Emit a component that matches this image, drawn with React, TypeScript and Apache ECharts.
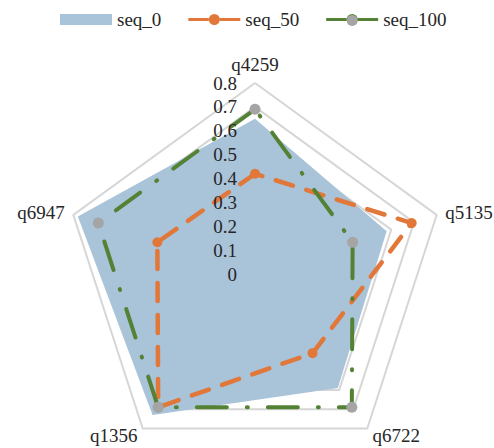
import React, { useEffect, useRef } from "react";
import * as echarts from "echarts";

// Spokes, clockwise from the top
const questions = ["q4259", "q5135", "q6722", "q1356", "q6947"];
const seq0 = [0.65, 0.58, 0.59, 0.73, 0.78];
const seq50 = [0.42, 0.69, 0.41, 0.69, 0.43];
const seq100 = [0.69, 0.43, 0.69, 0.69, 0.69];
const seriesNames = ["seq_0", "seq_50", "seq_100"];
const axisMax = 0.8;
const axisSplits = 8;

const FONT = '"Times New Roman", "Liberation Serif", "DejaVu Serif", serif';
const FONT_SIZE = 19;
const BLUE = "#a9c3d9";
const ORANGE = "#e2773a";
const GREEN = "#548235";
const GRAY = "#a5a5a5";

const CENTER: [number, number] = [255, 274];
const RADIUS = 191;

const LEGEND_LEFT = 60;
const LEGEND_TOP = 10;
const ICON_W = 52;
const ICON_H = 11;
const ICON_TEXT_GAP = 5;
const ITEM_GAP = 27;

// ECharts lays radar spokes out counter-clockwise, so feed them reversed after the first
const order = [0, 4, 3, 2, 1];
const pick = (arr: any[]) => order.map((i) => arr[i]);

const lineWithDot =
  "path://M0,4h20.5v3H0z M31.5,4H52v3H31.5z M20.5,5.5a5.5,5.5 0 1,1 11,0a5.5,5.5 0 1,1 -11,0z";

function textWidth(text: string): number {
  const ctx = document.createElement("canvas").getContext("2d");
  if (!ctx) return text.length * FONT_SIZE * 0.45;
  ctx.font = `${FONT_SIZE}px ${FONT}`;
  return ctx.measureText(text).width;
}

export default function App() {
  const ref = useRef<HTMLDivElement>(null);

  useEffect(() => {
    if (!ref.current) return;
    const chart = echarts.init(ref.current, null, { renderer: "svg" });

    const indicators = pick(questions).map((q) => ({ name: q, min: 0, max: axisMax }));
    const labelIndicators = indicators.map((ind, i) =>
      i === 0 ? { ...ind, axisLabel: { show: true } } : { ...ind }
    );

    // centre of the seq_100 legend icon, where its grey marker sits
    const thirdIconX =
      LEGEND_LEFT +
      (ICON_W + ICON_TEXT_GAP + textWidth(seriesNames[0]) + ITEM_GAP) +
      (ICON_W + ICON_TEXT_GAP + textWidth(seriesNames[1]) + ITEM_GAP) +
      ICON_W / 2;

    chart.setOption({
      animation: false,
      backgroundColor: "#ffffff",
      textStyle: { fontFamily: FONT },
      legend: {
        left: LEGEND_LEFT,
        top: LEGEND_TOP,
        padding: 0,
        itemWidth: ICON_W,
        itemHeight: ICON_H,
        itemGap: ITEM_GAP,
        textStyle: { fontFamily: FONT, fontSize: FONT_SIZE, color: "#262626" },
        data: [
          { name: seriesNames[0], icon: "rect", itemStyle: { color: BLUE } },
          { name: seriesNames[1], icon: lineWithDot, itemStyle: { color: ORANGE } },
          { name: seriesNames[2], icon: lineWithDot, itemStyle: { color: GREEN } },
        ],
      },
      radar: [
        {
          center: CENTER,
          radius: RADIUS,
          startAngle: 90,
          splitNumber: axisSplits,
          shape: "polygon",
          indicator: indicators,
          axisName: { fontFamily: FONT, fontSize: FONT_SIZE, color: "#262626" },
          nameGap: 9,
          axisLine: { show: false },
          splitLine: { lineStyle: { color: "#d6d6d6", width: 2 } },
          splitArea: { show: false },
          axisLabel: { show: false },
        },
        {
          center: CENTER,
          radius: RADIUS,
          startAngle: 90,
          splitNumber: axisSplits,
          shape: "polygon",
          z: 10,
          indicator: labelIndicators,
          axisName: { show: false },
          axisLine: { show: false },
          axisTick: { show: false },
          splitLine: { show: false },
          splitArea: { show: false },
          axisLabel: {
            show: false,
            fontFamily: FONT,
            fontSize: FONT_SIZE,
            color: "#262626",
            margin: 18,
            formatter: (v: number) => String(Math.round(v * 10) / 10),
          },
        },
      ],
      series: [
        {
          name: seriesNames[0],
          type: "radar",
          radarIndex: 0,
          z: 2,
          symbol: "none",
          lineStyle: { width: 0, color: BLUE },
          itemStyle: { color: BLUE },
          areaStyle: { color: BLUE, opacity: 1 },
          data: [{ value: pick(seq0), name: seriesNames[0] }],
        },
        {
          name: seriesNames[1],
          type: "radar",
          radarIndex: 0,
          z: 3,
          symbol: "circle",
          symbolSize: 10,
          itemStyle: { color: ORANGE },
          lineStyle: { color: ORANGE, width: 4.5, type: [18, 14], cap: "round" },
          data: [{ value: pick(seq50), name: seriesNames[1] }],
        },
        {
          name: seriesNames[2],
          type: "radar",
          radarIndex: 0,
          z: 4,
          symbol: "circle",
          symbolSize: 11,
          itemStyle: { color: GRAY },
          lineStyle: { color: GREEN, width: 4, type: [30, 20, 1, 20], cap: "round" },
          data: [{ value: pick(seq100), name: seriesNames[2] }],
        },
      ],
      graphic: [
        {
          type: "circle",
          z: 100,
          shape: { cx: thirdIconX, cy: LEGEND_TOP + 10.5, r: 5.5 },
          style: { fill: GRAY },
          silent: true,
        },
      ],
    });

    return () => chart.dispose();
  }, []);

  return (
    <div
      ref={ref}
      style={{ position: "absolute", left: 0, top: 0, width: 494, height: 448, background: "#fff" }}
    />
  );
}
